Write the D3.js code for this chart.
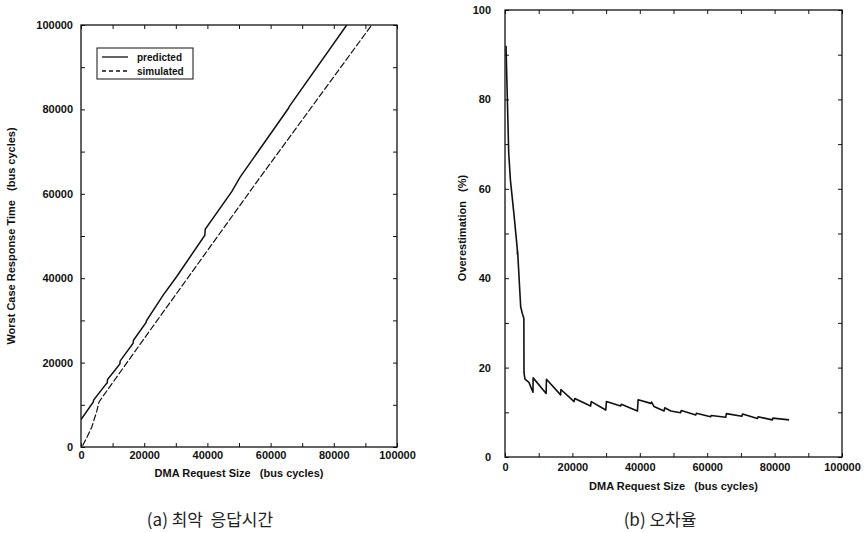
<!DOCTYPE html>
<html><head><meta charset="utf-8">
<script src="https://cdn.jsdelivr.net/npm/d3@7"></script>
<style>
body{margin:0;background:#fff;}
svg text{font-family:"Liberation Sans",Arial,sans-serif;fill:#111;}
</style></head>
<body>
<svg id="c" width="864" height="533"></svg>
<script>
// ---------- data ----------
const xTickValues = [0,10000,20000,30000,40000,50000,60000,70000,80000,90000,100000];
const xTickLabels = ["0","","20000","","40000","","60000","","80000","","100000"];
const yTickValuesA = [0,10000,20000,30000,40000,50000,60000,70000,80000,90000,100000];
const yTickLabelsA = ["0","","20000","","40000","","60000","","80000","","100000"];
const yTickValuesB = [0,10,20,30,40,50,60,70,80,90,100];
const yTickLabelsB = ["0","","20","","40","","60","","80","","100"];

const seriesNames = ["predicted","simulated"];
// (a) worst case response time
const predictedX = [0,3900,4000,7900,8300,8400,12300,12400,16500,16600,20600,20700,26000,30300,39200,39300,47700,50300,65600,66000,84100];
const predictedY = [6500,10700,11100,14900,15200,16000,19700,20400,24600,25300,29500,29900,36000,40400,50200,51600,60500,63900,80200,80800,100000];
const simulatedX = [500,2000,3400,5000,5600,5800,19700,39200,56100,92000];
const simulatedY = [300,2500,4700,8500,10400,10800,25400,45700,63300,100000];
// (b) overestimation (%)
const overX = [300,700,1100,1600,2700,3650,3700,3750,4650,5150,5600,5640,5930,7100,8300,8350,12200,12300,16500,16600,20500,20700,25400,25600,29900,30100,34300,34500,39300,39500,43300,43500,44200,47200,47400,49200,52100,52300,56600,56800,61000,61200,65500,65700,70300,70500,74900,75100,79300,79500,84300];
const overY = [92,80,68,62,54,46.5,45.3,46,33.6,32.1,31,18.8,17.4,16.7,14.5,17.7,14.2,17.4,13.9,15.1,12.4,13.1,11.4,12.4,10.5,12.4,11.4,11.8,10.3,12.8,12.0,12.3,11.3,10.3,11.0,10.3,9.9,10.4,9.4,9.8,9.0,9.3,8.9,9.7,9.1,9.6,8.6,9.0,8.3,8.7,8.3];

const xTitle = "DMA Request Size   (bus cycles)";
const yTitleA = "Worst Case Response Time   (bus cycles)";
const yTitleB = "Overestimation   (%)";
const captionA = "(a) 최악  응답시간";
const captionB = "(b) 오차율";

// ---------- drawing ----------
const svg = d3.select("#c");
const fmt = (vals, labels) => (d => labels[vals.indexOf(d)]);

function panel(cfg){
  const x = d3.scaleLinear().domain([0,100000]).range([cfg.x0, cfg.x1]);
  const y = d3.scaleLinear().domain(cfg.yDomain).range([cfg.y0, cfg.y1]);
  const g = svg.append("g");
  const axStyle = sel => {
    sel.selectAll("path.domain").remove();
    sel.selectAll("line").attr("stroke","#111").attr("stroke-width",1);
    sel.selectAll("text").attr("font-size","11px").attr("font-weight","bold");
  };
  g.append("g").attr("transform",`translate(0,${cfg.y0})`)
    .call(d3.axisBottom(x).tickValues(xTickValues).tickFormat(fmt(xTickValues,xTickLabels))
      .tickSizeInner(-4).tickSizeOuter(0).tickPadding(cfg.xPad)).call(axStyle);
  g.append("g").attr("transform",`translate(0,${cfg.y1})`)
    .call(d3.axisTop(x).tickValues(xTickValues).tickFormat("").tickSizeInner(-4).tickSizeOuter(0)).call(axStyle);
  g.append("g").attr("transform",`translate(${cfg.x0},0)`)
    .call(d3.axisLeft(y).tickValues(cfg.yVals).tickFormat(fmt(cfg.yVals,cfg.yLabels))
      .tickSizeInner(-4).tickSizeOuter(0).tickPadding(cfg.yPad)).call(axStyle);
  g.append("g").attr("transform",`translate(${cfg.x1},0)`)
    .call(d3.axisRight(y).tickValues(cfg.yVals).tickFormat("").tickSizeInner(-4).tickSizeOuter(0)).call(axStyle);
  g.append("rect").attr("x",cfg.x0).attr("y",cfg.y1).attr("width",cfg.x1-cfg.x0).attr("height",cfg.y0-cfg.y1)
    .attr("fill","none").attr("stroke","#111").attr("stroke-width",1.3);
  g.append("text").attr("x",(cfg.x0+cfg.x1)/2).attr("y",cfg.xTitleY).attr("text-anchor","middle")
    .attr("font-size","11px").attr("font-weight","bold").attr("xml:space","preserve").text(xTitle);
  g.append("text").attr("transform",`translate(${cfg.yTitleX},${cfg.yTitleC}) rotate(-90)`).attr("text-anchor","middle")
    .attr("font-size","11px").attr("font-weight","bold").attr("xml:space","preserve").text(cfg.yTitle);
  g.append("text").attr("x",cfg.capX).attr("y",526).attr("text-anchor","middle")
    .attr("font-size","17px").attr("xml:space","preserve")
    .style("font-family","'Noto Sans CJK KR',sans-serif").style("fill","#222").text(cfg.caption);
  return {x,y,g};
}

// panel (a)
const A = panel({x0:81,x1:397,y0:447,y1:25,yDomain:[0,100000],yVals:yTickValuesA,yLabels:yTickLabelsA,
  xPad:4,yPad:8,xTitleY:477,yTitleX:15,yTitleC:236,yTitle:yTitleA,capX:210,caption:captionA});
const lineA = d3.line().x(d=>A.x(d[0])).y(d=>A.y(d[1]));
A.g.append("clipPath").attr("id","clipA").append("rect")
  .attr("x",81).attr("y",25).attr("width",316).attr("height",422);
A.g.append("path").datum(d3.zip(predictedX,predictedY)).attr("d",lineA)
  .attr("fill","none").attr("stroke","#111").attr("stroke-width",1.5).attr("clip-path","url(#clipA)");
A.g.append("path").datum(d3.zip(simulatedX,simulatedY)).attr("d",lineA)
  .attr("fill","none").attr("stroke","#111").attr("stroke-width",1.2).attr("stroke-dasharray","7,2").attr("clip-path","url(#clipA)");
// legend
const leg = A.g.append("g");
leg.append("rect").attr("x",97).attr("y",48).attr("width",96).attr("height",31)
  .attr("fill","#fff").attr("stroke","#111").attr("stroke-width",1);
seriesNames.forEach((n,i)=>{
  const yy = 57 + i*14;
  leg.append("line").attr("x1",102).attr("x2",128).attr("y1",yy).attr("y2",yy)
    .attr("stroke","#111").attr("stroke-width",1.3).attr("stroke-dasharray", i ? "4,3" : null);
  leg.append("text").attr("x",137).attr("y",yy+3.5).attr("font-size","10px").attr("font-weight","bold").text(n);
});

// panel (b)
const B = panel({x0:505,x1:842,y0:457,y1:10,yDomain:[0,100],yVals:yTickValuesB,yLabels:yTickLabelsB,
  xPad:6,yPad:14,xTitleY:490,yTitleX:466,yTitleC:228,yTitle:yTitleB,capX:660,caption:captionB});
const lineB = d3.line().x(d=>B.x(d[0])).y(d=>B.y(d[1]));
B.g.append("path").datum(d3.zip(overX,overY)).attr("d",lineB)
  .attr("fill","none").attr("stroke","#111").attr("stroke-width",1.6).attr("stroke-linejoin","round");
</script>
</body></html>
